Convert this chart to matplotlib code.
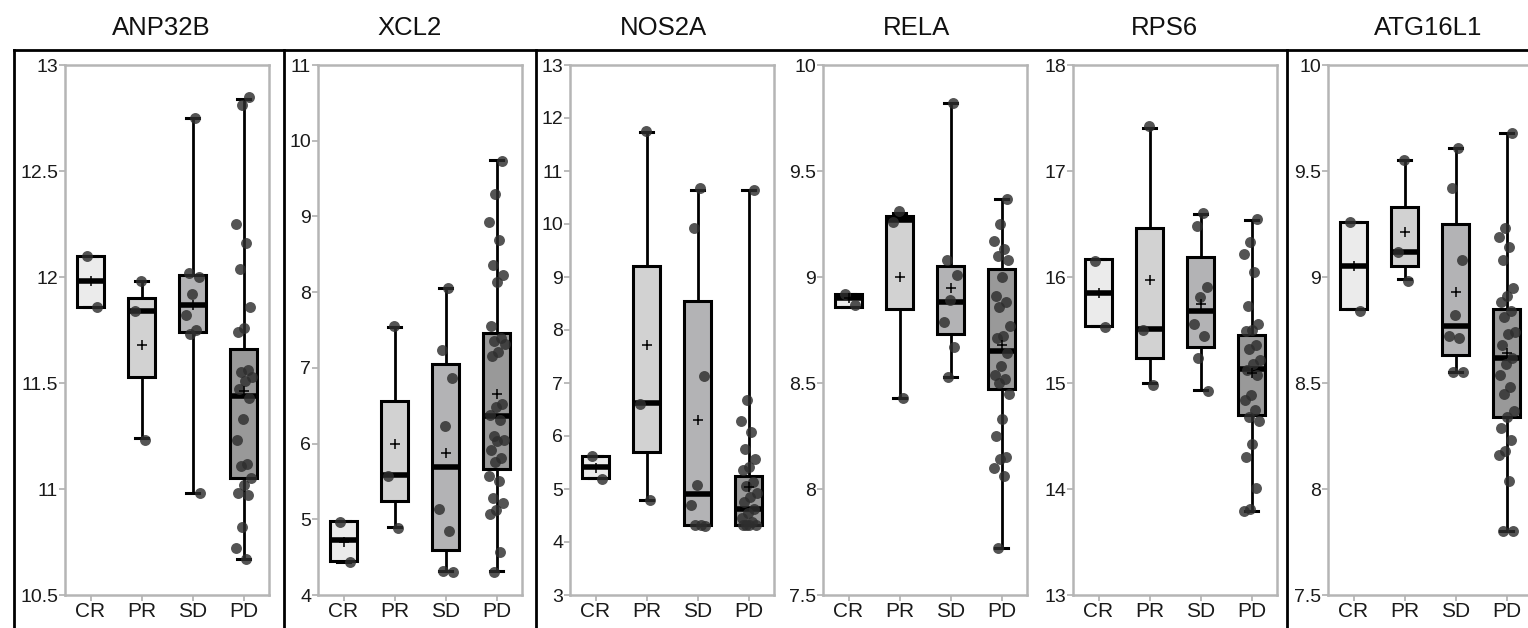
import numpy as np
import matplotlib
matplotlib.use("Agg")
import matplotlib.pyplot as plt
from matplotlib.lines import Line2D

plt.rcParams['font.family'] = ['Liberation Sans', 'DejaVu Sans']

genes = ["ANP32B", "XCL2", "NOS2A", "RELA", "RPS6", "ATG16L1"]
groups = ["CR", "PR", "SD", "PD"]

# points per response group (CR, PR, SD, PD)
anp32b_points = [
    [12.10, 11.86],
    [11.98, 11.84, 11.23],
    [12.75, 12.02, 12.00, 11.92, 11.82, 11.75, 11.73, 10.98],
    [12.85, 12.81, 12.25, 12.16, 12.04, 11.86, 11.76, 11.74, 11.56, 11.55, 11.53, 11.51, 11.47,
     11.43, 11.33, 11.23, 11.12, 11.11, 11.05, 11.02, 10.98, 10.97, 10.82, 10.72, 10.67],
]
xcl2_points = [
    [4.96, 4.44],
    [7.55, 5.57, 4.89],
    [8.05, 7.23, 6.86, 6.23, 5.13, 4.85, 4.32, 4.31],
    [9.73, 9.30, 8.93, 8.69, 8.36, 8.22, 8.14, 7.55, 7.39, 7.35, 7.32, 7.21, 7.15, 6.52, 6.48, 6.38,
     6.31, 6.10, 6.05, 6.03, 5.92, 5.81, 5.75, 5.57, 5.50, 5.28, 5.22, 5.12, 5.07, 4.57, 4.31],
]
nos2a_points = [
    [5.62, 5.19],
    [11.75, 6.60, 4.80],
    [10.67, 9.93, 7.13, 5.07, 4.69, 4.32, 4.32, 4.31],
    [10.64, 6.67, 6.29, 6.08, 5.75, 5.56, 5.42, 5.35, 5.14, 5.05, 4.93, 4.85, 4.75, 4.62, 4.55,
     4.45, 4.38, 4.33, 4.33, 4.32, 4.32],
]
rela_points = [
    [8.92, 8.87],
    [9.31, 9.26, 8.43],
    [9.82, 9.08, 9.01, 8.89, 8.79, 8.67, 8.53],
    [9.37, 9.25, 9.17, 9.13, 9.10, 9.08, 9.00, 8.91, 8.88, 8.86, 8.77, 8.72, 8.71, 8.64, 8.58,
     8.54, 8.52, 8.50, 8.45, 8.33, 8.25, 8.15, 8.14, 8.10, 8.06, 7.72],
]
rps6_points = [
    [16.15, 15.53],
    [17.42, 15.50, 14.98],
    [16.60, 16.48, 15.91, 15.81, 15.56, 15.44, 15.24, 14.92],
    [16.55, 16.33, 16.22, 16.05, 15.73, 15.56, 15.50, 15.49, 15.36, 15.32, 15.22, 15.18, 15.12,
     15.08, 14.89, 14.84, 14.75, 14.68, 14.64, 14.42, 14.30, 14.01, 13.81, 13.79],
]
atg16l1_points = [
    [9.26, 8.84],
    [9.55, 9.12, 8.98],
    [9.61, 9.42, 9.08, 8.82, 8.72, 8.71, 8.55, 8.55],
    [9.68, 9.23, 9.19, 9.14, 9.08, 8.95, 8.91, 8.88, 8.84, 8.81, 8.74, 8.73, 8.68, 8.62, 8.59,
     8.54, 8.48, 8.45, 8.37, 8.34, 8.29, 8.23, 8.18, 8.16, 8.04, 7.80, 7.80],
]

# box stats per group: whisker low, q1, median, q3, whisker high, mean
anp32b_box = [[11.86, 11.86, 11.98, 12.10, 12.10, 11.98],
              [11.24, 11.53, 11.84, 11.90, 11.98, 11.68],
              [10.98, 11.74, 11.87, 12.01, 12.75, 11.87],
              [10.67, 11.05, 11.44, 11.66, 12.84, 11.46]]
xcl2_box = [[4.44, 4.45, 4.72, 4.98, 4.98, 4.70],
            [4.90, 5.24, 5.58, 6.56, 7.54, 6.00],
            [4.32, 4.59, 5.69, 7.05, 8.05, 5.87],
            [4.32, 5.66, 6.36, 7.46, 9.74, 6.66]]
nos2a_box = [[5.20, 5.20, 5.42, 5.63, 5.63, 5.40],
             [4.80, 5.69, 6.62, 9.20, 11.74, 7.72],
             [4.32, 4.32, 4.91, 8.54, 10.65, 6.31],
             [4.32, 4.32, 4.62, 5.25, 10.64, 5.04]]
rela_box = [[8.86, 8.86, 8.90, 8.92, 8.92, 8.90],
            [8.43, 8.85, 9.27, 9.29, 9.30, 9.00],
            [8.53, 8.73, 8.88, 9.05, 9.82, 8.95],
            [7.72, 8.47, 8.65, 9.04, 9.37, 8.68]]
rps6_box = [[15.54, 15.54, 15.85, 16.17, 16.17, 15.85],
            [15.00, 15.24, 15.51, 16.46, 17.41, 15.97],
            [14.93, 15.34, 15.68, 16.19, 16.59, 15.75],
            [13.79, 14.70, 15.13, 15.45, 16.54, 15.09]]
atg16l1_box = [[8.85, 8.85, 9.05, 9.26, 9.26, 9.05],
               [8.99, 9.05, 9.12, 9.33, 9.55, 9.21],
               [8.55, 8.63, 8.77, 9.25, 9.61, 8.93],
               [7.80, 8.34, 8.62, 8.85, 9.68, 8.64]]

all_points = [anp32b_points, xcl2_points, nos2a_points, rela_points, rps6_points, atg16l1_points]
all_boxes = [anp32b_box, xcl2_box, nos2a_box, rela_box, rps6_box, atg16l1_box]

y_ranges = [(10.5, 13), (4, 11), (3, 13), (7.5, 10), (13, 18), (7.5, 10)]
y_steps = [0.5, 1, 1, 0.5, 1, 0.5]

box_colors = ["#ebebeb", "#d2d2d2", "#b3b3b5", "#999999"]
frame_gray = "#b5b5b5"

W, H = 1528, 628
fig = plt.figure(figsize=(W / 100, H / 100), dpi=100)

lefts = [65, 318, 570, 823, 1073, 1328]
title_x = [161, 410, 663, 917, 1164, 1428]

for k, gene in enumerate(genes):
    ax = fig.add_axes([lefts[k] / W, 1 - 595 / H, 204 / W, 530 / H])
    stats = []
    for b in all_boxes[k]:
        stats.append(dict(whislo=b[0], q1=b[1], med=b[2], q3=b[3], whishi=b[4], mean=b[5], fliers=[]))
    bp = ax.bxp(stats, positions=[1, 2, 3, 4], widths=0.52, patch_artist=True,
                showmeans=True, showfliers=False, capwidths=0.24,
                boxprops=dict(linewidth=2.2, edgecolor="black"),
                whiskerprops=dict(linewidth=2, color="black"),
                capprops=dict(linewidth=2.2, color="black"),
                medianprops=dict(linewidth=4, color="black"),
                meanprops=dict(marker="+", markeredgecolor="black", markersize=7,
                               markeredgewidth=1.1, zorder=5))
    for patch, c in zip(bp["boxes"], box_colors):
        patch.set_facecolor(c)

    # jittered points
    for i, pts in enumerate(all_points[k]):
        n = len(pts)
        off = ((np.arange(n) * 0.618034 + 0.3 + 0.17 * i) % 1 - 0.5) * 0.32
        ax.scatter(i + 1 + off, pts, s=62, color="#2e2e2e", alpha=0.82, linewidths=0, zorder=4)

    lo, hi = y_ranges[k]
    ax.set_ylim(lo, hi)
    ax.set_xlim(0.5, 4.5)
    ax.set_yticks(np.arange(lo, hi + 1e-9, y_steps[k]))
    ax.set_yticklabels([f"{v:g}" for v in np.arange(lo, hi + 1e-9, y_steps[k])])
    ax.set_xticks([1, 2, 3, 4])
    ax.set_xticklabels(groups)
    for s in ax.spines.values():
        s.set_color(frame_gray)
        s.set_linewidth(1.8)
    ax.tick_params(axis="both", color=frame_gray, length=4, width=1.3,
                   labelcolor="#1a1a1a", pad=1)
    ax.tick_params(axis="y", labelsize=14)
    ax.tick_params(axis="x", labelsize=15)

    fig.text(title_x[k] / W, 1 - 28 / H, gene, ha="center", va="center",
             fontsize=18.5, color="#111111")

# black separator lines
fig.add_artist(Line2D([14 / W, 1], [1 - 50 / H, 1 - 50 / H], color="black", lw=2))
for x in [14, 284, 536, 1287]:
    fig.add_artist(Line2D([x / W, x / W], [0, 1 - 50 / H], color="black", lw=2))

fig.savefig("out.png", dpi=100)
